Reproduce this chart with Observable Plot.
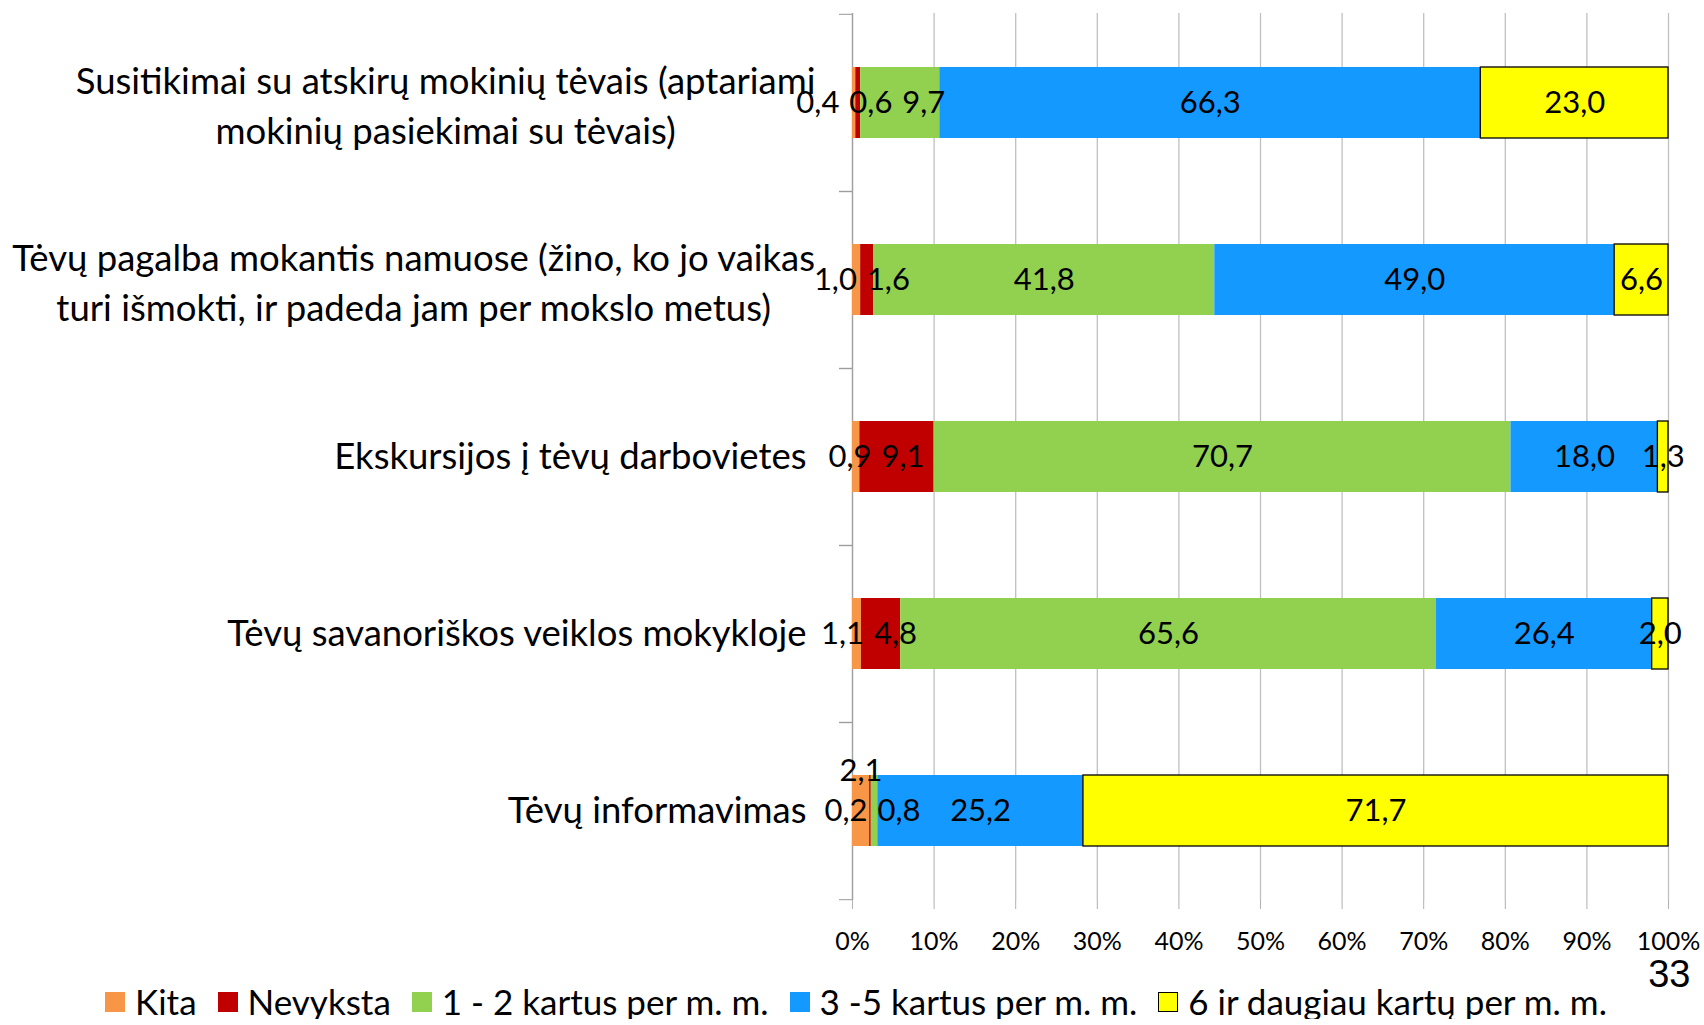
<!DOCTYPE html>
<html><head><meta charset="utf-8">
<script src="https://cdn.jsdelivr.net/npm/d3@7"></script>
<script src="https://cdn.jsdelivr.net/npm/@observablehq/plot@0.6"></script>
<style>
body{margin:0;background:#fff;font-family:Lato,sans-serif;overflow:hidden;}
#legend{display:flex;align-items:center;height:35px;margin-top:-6px;padding-left:105px;font-size:35px;line-height:1;color:#000;white-space:nowrap;}
.item{display:flex;align-items:center;margin-right:21px;}
.sw{width:20px;height:20px;margin-right:10px;box-sizing:border-box;}
</style></head><body><div id="chart"></div><div id="legend"></div>
<script>
const categories = [
  "Susitikimai su atskirų mokinių tėvais (aptariami\nmokinių pasiekimai su tėvais)",
  "Tėvų pagalba mokantis namuose (žino, ko jo vaikas\nturi išmokti, ir padeda jam per mokslo metus)",
  "Ekskursijos į tėvų darbovietes",
  "Tėvų savanoriškos veiklos mokykloje",
  "Tėvų informavimas"
];
const seriesNames = ["Kita", "Nevyksta", "1 - 2 kartus per m. m.", "3 -5 kartus per m. m.", "6 ir daugiau kartų per m. m."];
const kita     = [0.4, 1.0, 0.9, 1.1, 2.1];
const nevyksta = [0.6, 1.6, 9.1, 4.8, 0.2];
const k12      = [9.7, 41.8, 70.7, 65.6, 0.8];
const k35      = [66.3, 49.0, 18.0, 26.4, 25.2];
const k6       = [23.0, 6.6, 1.3, 2.0, 71.7];
const xTicks   = [0, 0.1, 0.2, 0.3, 0.4, 0.5, 0.6, 0.7, 0.8, 0.9, 1];
const pageNumber = "33";
const colors = ["#F79646", "#C00000", "#92D050", "#1399FF", "#FFFF00"];

const W = 1704, H = 990, mt = 13, mb = 90, ml = 852, mr = 36;
const padIn = 0.6, padOut = 0.3;
const catSize = 36.5, labelSize = 31, tickSize = 25;
const ctx = document.createElement("canvas").getContext("2d");
function textW(s, size) { ctx.font = `${size}px Lato`; return ctx.measureText(s).width; }
const fmt = v => v.toFixed(1).replace(".", ",");
const seriesData = [kita, nevyksta, k12, k35, k6];

const rows = [];
categories.forEach((c, i) => seriesNames.forEach((s, j) =>
  rows.push({cat: c, series: s, value: seriesData[j][i], last: j === seriesNames.length - 1 ? 1 : 0})));

const step = (H - mt - mb) / (categories.length - padIn + 2 * padOut);
const bandW = step * (1 - padIn);

// data labels: centred in their segment; small crowded ones are lifted or pushed apart
const pxPerUnit = W - ml - mr;
const labels = [], liftedLabels = [];
categories.forEach((c, i) => {
  const vals = seriesData.map(a => a[i]);
  const total = d3.sum(vals);
  let start = 0;
  let items = vals.map(v => {
    const mid = (start + v / 2) / total; start += v;
    return {cat: c, v, text: fmt(v), x: mid, w: (textW(fmt(v), labelSize) + 10) / pxPerUnit};
  });
  const tiny = items.filter(d => d.v < 3);
  if (tiny.length >= 3) {
    const big = tiny.reduce((a, b) => (b.v > a.v ? b : a));
    liftedLabels.push(big);
    items = items.filter(d => d !== big);
  }
  for (let it = 0; it < 300; it++) {
    for (let k = 0; k < items.length - 1; k++) {
      const a = items[k], b = items[k + 1];
      const need = (a.w + b.w) / 2, d = b.x - a.x;
      if (d < need) { const p = (need - d) / 2; a.x -= p; b.x += p; }
    }
  }
  labels.push(...items);
});

const catMarks = categories.map(c => {
  const lines = c.split("\n");
  if (lines.length > 1) {
    const w = d3.max(lines, l => textW(l, catSize));
    return Plot.text([c], {x: () => 0, y: d => d, text: d => d, textAnchor: "middle",
      dx: -(37 + w / 2), fontSize: catSize, lineHeight: 1.37, fill: "#000"});
  }
  return Plot.text([c], {x: () => 0, y: d => d, text: d => d, textAnchor: "end",
    dx: -46, fontSize: catSize, fill: "#000"});
});

const chart = Plot.plot({
  width: W, height: H,
  marginTop: mt, marginBottom: mb, marginLeft: ml, marginRight: mr,
  style: {fontFamily: "Lato, sans-serif", background: "#fff", overflow: "visible"},
  x: {domain: [0, 1], axis: null, label: null},
  y: {domain: categories, paddingInner: padIn, paddingOuter: padOut, axis: null, label: null},
  color: {domain: seriesNames, range: colors},
  opacity: {domain: [0, 1], range: [0, 1]},
  marks: [
    Plot.gridX(xTicks, {stroke: "#c0c0c0", strokeOpacity: 1, strokeWidth: 1.3}),
    Plot.axisX(xTicks, {tickFormat: d3.format(".0%"), tickSize: 9, tickPadding: 23, label: null,
      stroke: "#b0b0b0", fontSize: tickSize, fill: "#000"}),
    Plot.axisY({tickSize: 13, tickFormat: () => "", label: null, dy: -step / 2, stroke: "#999"}),
    Plot.axisY({tickSize: 13, tickFormat: () => "", label: null, dy: step / 2, stroke: "#999"}),
    Plot.ruleX([0], {stroke: "#a0a0a0", strokeWidth: 1.3}),
    Plot.barX(rows, Plot.stackX({x: "value", y: "cat", fill: "series", order: seriesNames,
      offset: "normalize", stroke: "#000", strokeWidth: 1.3, strokeOpacity: "last"})),
    Plot.text(labels, {x: "x", y: "cat", text: "text", fontSize: labelSize, fill: "#000"}),
    Plot.text(liftedLabels, {x: "x", y: "cat", text: "text", fontSize: labelSize, fill: "#000",
      dy: -(bandW / 2 + 4)}),
    ...catMarks,
    Plot.text([pageNumber], {frameAnchor: "bottom-right", text: d => d, textAnchor: "end",
      dx: 22, dy: 86, fontSize: 38, fontFamily: "Liberation Sans, Arial, sans-serif", fill: "#000"})
  ]
});
document.getElementById("chart").appendChild(chart);

const legend = document.getElementById("legend");
seriesNames.forEach((s, j) => {
  const it = document.createElement("div"); it.className = "item";
  const sw = document.createElement("div"); sw.className = "sw"; sw.style.background = colors[j];
  if (j === seriesNames.length - 1) sw.style.border = "1.5px solid #000";
  const t = document.createElement("span"); t.textContent = s;
  it.appendChild(sw); it.appendChild(t); legend.appendChild(it);
});
</script></body></html>
